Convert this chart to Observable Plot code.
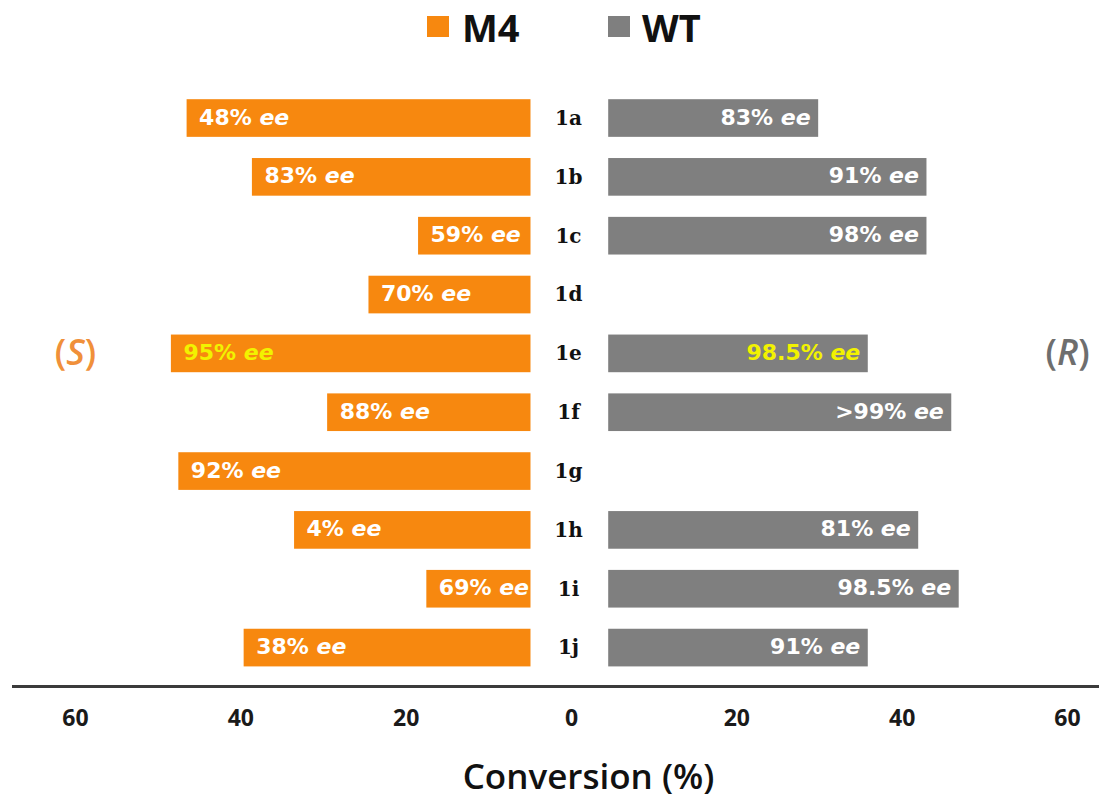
<!DOCTYPE html>
<html>
<head>
<meta charset="utf-8">
<script src="https://cdn.jsdelivr.net/npm/d3@7"></script>
<script src="https://cdn.jsdelivr.net/npm/@observablehq/plot@0.6"></script>
<style>
  body { margin: 0; background: #fff; }
  #legend { position: relative; width: 1099px; height: 60px; font-family: "Open Sans", sans-serif; font-weight: 700; }
  #legend .sw { position: absolute; top: 16px; width: 22px; height: 21px; }
  #legend .lab { position: absolute; top: 8px; font-size: 38px; line-height: 38px; color: #111; }
  #chart svg { display: block; }
  #chart g[aria-label="x-axis tick label"] text { font-family: "Open Sans", sans-serif; font-weight: 700; font-size: 23px; }
</style>
</head>
<body>
<div id="legend"></div>
<div id="chart"></div>
<script>
// Compounds 1a–1j, conversion (%) with M4 (S-selective) and WT (R-selective)
const compounds = ["1a", "1b", "1c", "1d", "1e", "1f", "1g", "1h", "1i", "1j"];
const m4Conversion = [46.5, 38.6, 18.5, 24.5, 48.4, 29.5, 47.5, 33.5, 17.5, 39.6];
const wtConversion = [29.9, 43.0, 43.0, null, 35.9, 46.0, null, 42.0, 46.9, 35.9];
const m4ee = ["48%", "83%", "59%", "70%", "95%", "88%", "92%", "4%", "69%", "38%"];
const wtee = ["83%", "91%", "98%", null, "98.5%", ">99%", null, "81%", "98.5%", "91%"];
const series = ["M4", "WT"];
const xTicks = [-60, -40, -20, 0, 20, 40, 60];
const xLabel = "Conversion (%)";
const sideLabels = ["(S)", "(R)"];

const ORANGE = "#F7880F";
const GRAY = "#7F7F7F";
const YELLOW = "#F2F200";
const HIGHLIGHT = "1e";
// blank channel in the middle that holds the compound names
const GAP_L = 4.9, GAP_R = 4.5;

const rows = compounds.map((c, i) => ({
  compound: c, m4: m4Conversion[i], wt: wtConversion[i], m4ee: m4ee[i], wtee: wtee[i]
}));
const wtRows = rows.filter(d => d.wt != null);

// legend
const legend = document.getElementById("legend");
const legendX = [{sw: 427, lab: 462}, {sw: 608, lab: 642}];
series.forEach((s, i) => {
  const sw = document.createElement("div");
  sw.className = "sw";
  sw.style.left = legendX[i].sw + "px";
  sw.style.background = i === 0 ? ORANGE : GRAY;
  legend.appendChild(sw);
  const lab = document.createElement("div");
  lab.className = "lab";
  lab.style.left = legendX[i].lab + "px";
  lab.textContent = s;
  legend.appendChild(lab);
});

const labelFont = {fontFamily: "DejaVu Sans", fontWeight: "bold", fontSize: 22};
const eeText = v => v + " ee";

const chart = Plot.plot({
  width: 1099,
  height: 740,
  marginLeft: 13,
  marginRight: 0,
  marginTop: 0,
  marginBottom: 114,
  x: {domain: [-60, 60], range: [75, 1067]},
  y: {domain: compounds, range: [28.6, 617], paddingInner: 0.36, paddingOuter: 0.18, round: false, axis: null},
  color: {type: "identity"},
  style: {background: "white", overflow: "visible"},
  marks: [
    Plot.barX(rows, {y: "compound", x1: -GAP_L, x2: d => -d.m4, fill: ORANGE}),
    Plot.barX(wtRows, {y: "compound", x1: GAP_R, x2: "wt", fill: GRAY}),
    Plot.text(rows, {
      y: "compound", x: d => -d.m4, text: d => eeText(d.m4ee),
      textAnchor: "start", dx: 12, dy: -1,
      fill: d => d.compound === HIGHLIGHT ? YELLOW : "#FFFFFF",
      ...labelFont
    }),
    Plot.text(wtRows, {
      y: "compound", x: "wt", text: d => eeText(d.wtee),
      textAnchor: "end", dx: -8, dy: -1,
      fill: d => d.compound === HIGHLIGHT ? YELLOW : "#FFFFFF",
      ...labelFont
    }),
    Plot.text(rows, {
      y: "compound", x: 0, text: "compound", dx: -3,
      fontFamily: "DejaVu Serif", fontWeight: "bold", fontSize: 20, fill: "#111"
    }),
    Plot.text([
      {x: xTicks[0], t: sideLabels[0], c: "#F0903A"},
      {x: xTicks[xTicks.length - 1], t: sideLabels[1], c: "#6E6E6E"}
    ], {
      x: "x", y: () => HIGHLIGHT, text: "t", fill: "c",
      fontFamily: "Open Sans", fontWeight: 600, fontSize: 36
    }),
    Plot.frame({anchor: "bottom", stroke: "#3b3b3b", strokeWidth: 3}),
    Plot.axisX({
      ticks: xTicks, tickFormat: d => Math.abs(d), tickSize: 0, tickPadding: 23,
      label: null, fill: "#1a1a1a", fontSize: 23, fontWeight: "bold", fontFamily: "Open Sans"
    }),
    Plot.text([xLabel], {
      text: d => d, frameAnchor: "bottom", dx: 32, dy: 91, lineAnchor: "middle",
      fontFamily: "Open Sans", fontWeight: 600, fontSize: 35, fill: "#111"
    })
  ]
});
document.getElementById("chart").appendChild(chart);

const SVGNS = "http://www.w3.org/2000/svg";
const italicSpan = s => {
  const ts = document.createElementNS(SVGNS, "tspan");
  ts.setAttribute("font-style", "italic");
  ts.textContent = s;
  return ts;
};
// italic "ee" in the bar labels, italic descriptor letter in (S)/(R)
d3.select(chart).selectAll("text").each(function () {
  if (this.querySelector("tspan")) return;
  const t = this.textContent;
  if (/ ee$/.test(t)) {
    this.textContent = t.slice(0, -2);
    this.appendChild(italicSpan("ee"));
  } else if (sideLabels.includes(t)) {
    this.textContent = "(";
    this.appendChild(italicSpan(t.slice(1, -1)));
    this.appendChild(document.createTextNode(")"));
  }
});
</script>
</body>
</html>
